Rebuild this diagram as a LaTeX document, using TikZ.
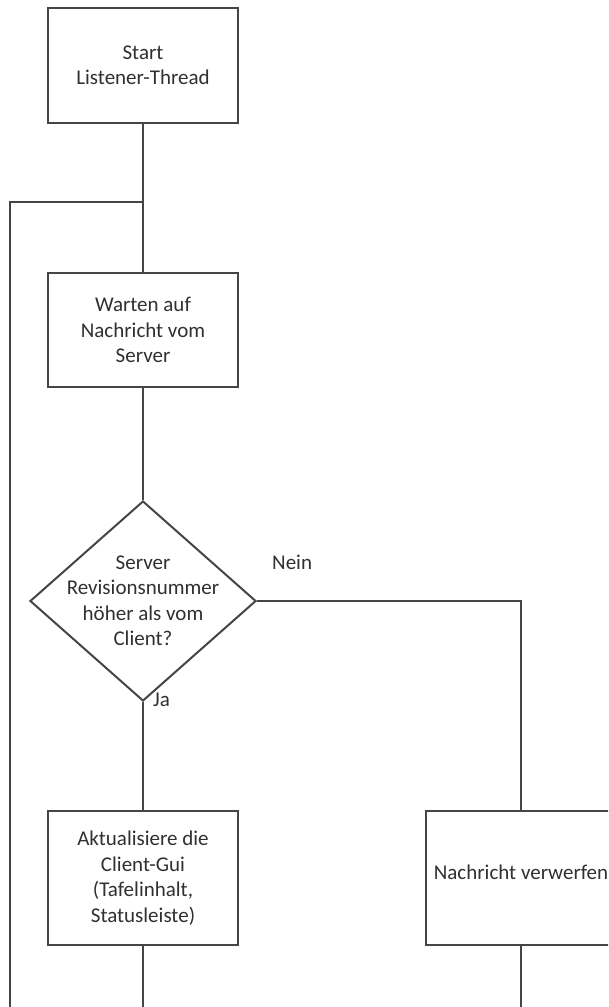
\documentclass[tikz,border=0pt]{standalone}
\usepackage{fontspec}
\setmainfont{Carlito}
\usetikzlibrary{shapes.geometric}
\definecolor{ln}{HTML}{454545}
\definecolor{tx}{HTML}{303030}
\tikzset{
  procbox/.style={draw=ln, line width=2pt, minimum width=190pt, minimum height=115pt, align=center, inner sep=0pt, text=tx, font=\fontsize{21}{25.5}\selectfont},
  decision/.style={draw=ln, line width=2pt, diamond, minimum width=226pt, minimum height=200pt, inner sep=0pt},
  dtext/.style={align=center, text=tx, font=\fontsize{21}{25.5}\selectfont, inner sep=0pt},
  lbl/.style={text=tx, font=\fontsize{21}{25.5}\selectfont, inner sep=0pt},
  conn/.style={draw=ln, line width=2pt},
}
\begin{document}
\begin{tikzpicture}[x=1pt, y=-1pt]
\useasboundingbox (0,0) rectangle (608,1007);
\clip (0,0) rectangle (608,1007);
\fill[white] (0,0) rectangle (608,1007);
\node[procbox] (start) at (143,65.5) {Start\\Listener-Thread};
\node[procbox, minimum height=114pt] (wait) at (143,330) {Warten auf\\Nachricht vom\\Server};
\node[decision] (dec) at (143,601) {};
\node[dtext] (dectext) at (143,601) {Server\\Revisionsnummer\\höher als vom\\Client?};
\node[procbox, minimum height=134pt] (upd) at (143,878) {Aktualisiere die\\Client-Gui\\(Tafelinhalt,\\Statusleiste)};
\node[procbox, minimum height=134pt] (drop) at (521,878) {\raisebox{12pt}{Nachricht verwerfen}};
\coordinate (join) at (143,202);
\coordinate (lt) at (10,202);
\coordinate (lb) at (10,1008);
\coordinate (nr) at (521,601);
\coordinate (ub) at (143,1008);
\coordinate (db) at (521,1008);
\draw[conn] (start.south) -- (join) -- (wait.north);
\draw[conn] (join) -- (lt) -- (lb);
\draw[conn] (wait.south) -- (dec.north);
\draw[conn] (dec.east) -- (nr) -- (drop.north);
\draw[conn] (dec.south) -- (upd.north);
\draw[conn] (upd.south) -- (ub);
\draw[conn] (drop.south) -- (db);
\node[lbl, anchor=west] (nein) at (272,562) {Nein};
\node[lbl, anchor=west] (ja) at (153,700) {Ja};
\end{tikzpicture}
\end{document}
